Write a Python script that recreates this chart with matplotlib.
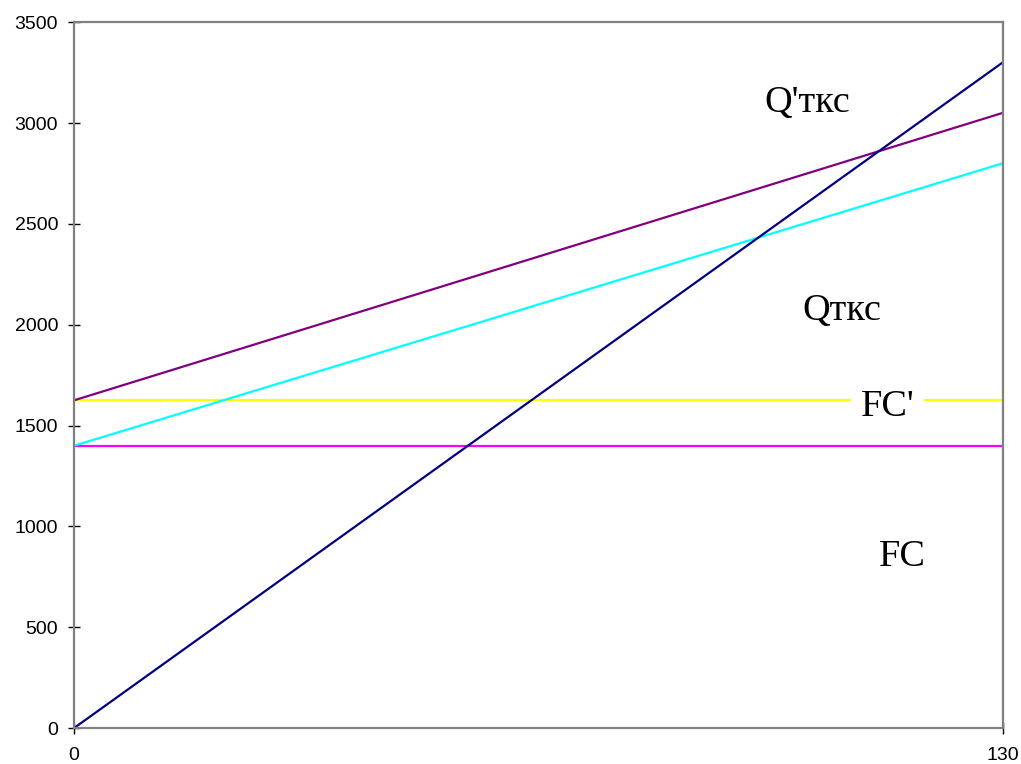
import matplotlib.pyplot as plt

# volume of production
x = [0, 130]

# cost / revenue lines
tr = [0, 3300]          # navy
q_tks2 = [1625, 3050]   # Q'ткс, purple
q_tks = [1400, 2800]    # Qткс, cyan
fc2 = [1625, 1625]      # FC', yellow
fc = [1400, 1400]       # FC, magenta

y_ticks = [0, 500, 1000, 1500, 2000, 2500, 3000, 3500]
x_ticks = [0, 130]

fig = plt.figure(figsize=(10.21, 7.64), dpi=100)
ax = fig.add_axes([0.0725, 0.047, 0.9095, 0.924])

ax.plot(x, fc, color="#FF00FF", lw=1.6)
ax.plot(x, fc2, color="#FFFF00", lw=1.6)
ax.plot(x, q_tks, color="#00FFFF", lw=1.6)
ax.plot(x, q_tks2, color="#800080", lw=1.6)
ax.plot(x, tr, color="#000080", lw=1.6)

ax.set_xlim(0, 130)
ax.set_ylim(0, 3500)
ax.set_xticks(x_ticks)
ax.set_yticks(y_ticks)

for s in ax.spines.values():
    s.set_color("#808080")
    s.set_linewidth(1.6)

ax.tick_params(axis="both", direction="inout", length=9, width=1.0,
               color="black", labelsize=14)
ax.tick_params(axis="x", pad=9)
ax.tick_params(axis="y", pad=7)
for lab in ax.get_xticklabels() + ax.get_yticklabels():
    lab.set_family("Liberation Sans")

# labels on the chart
serif = "Liberation Serif"
ax.text(102.7, 3098, "Q'ткс", fontsize=27.5, family=serif, ha="center", va="center")
ax.text(107.5, 2067, "Qткс", fontsize=27.5, family=serif, ha="center", va="center")
ax.text(113.9, 1591, "FC'", fontsize=27.5, family=serif, ha="center", va="center",
        bbox=dict(facecolor="white", edgecolor="none", pad=7))
ax.text(115.9, 848, "FC", fontsize=27.5, family=serif, ha="center", va="center")

plt.savefig("out.png", dpi=100)
